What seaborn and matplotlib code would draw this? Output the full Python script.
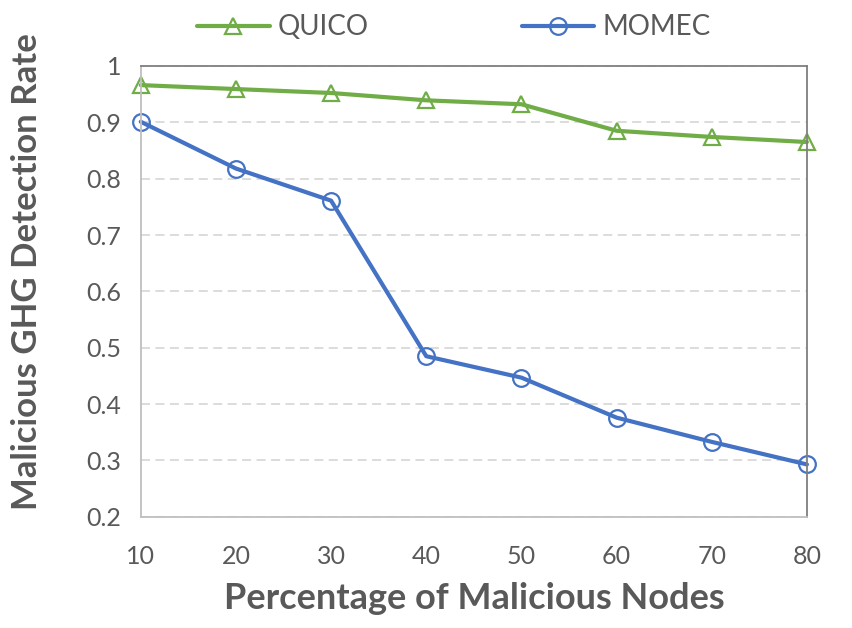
import pandas as pd
import matplotlib
matplotlib.use("Agg")
import matplotlib.pyplot as plt
import seaborn as sns
from matplotlib.ticker import FuncFormatter

# =========================
# DATA
# =========================

nodes = [10, 20, 30, 40, 50, 60, 70, 80]
quico = [0.966, 0.959, 0.952, 0.939, 0.932, 0.885, 0.874, 0.865]
momec = [0.901, 0.818, 0.761, 0.485, 0.447, 0.376, 0.333, 0.293]

df = pd.DataFrame({
    "nodes": nodes * 2,
    "rate": quico + momec,
    "method": ["QUICO"] * len(nodes) + ["MOMEC"] * len(nodes),
})

# =========================
# STYLE
# =========================

sns.set_style("white")
plt.rcParams['font.family'] = ['Lato', 'DejaVu Sans']

text_col = "#595959"
palette = {"QUICO": "#70AD47", "MOMEC": "#4472C4"}
markers = {"QUICO": "^", "MOMEC": "o"}

fig = plt.figure(figsize=(8.53, 6.28), dpi=100)
ax = fig.add_axes([0.165, 0.177, 0.781, 0.718])

sns.lineplot(
    data=df,
    x="nodes",
    y="rate",
    hue="method",
    style="method",
    markers=markers,
    dashes=False,
    palette=palette,
    linewidth=3,
    markersize=12,
    markerfacecolor="none",
    markeredgewidth=1.6,
    ax=ax,
)

# hollow markers with coloured edges, not clipped at the frame
for line in ax.get_lines():
    line.set_markeredgecolor(line.get_color())
    line.set_clip_on(False)

ax.set_xlim(10, 80)
ax.set_ylim(0.2, 1.0)
ax.set_xticks(nodes)
ax.set_yticks([0.2, 0.3, 0.4, 0.5, 0.6, 0.7, 0.8, 0.9, 1.0])
ax.yaxis.set_major_formatter(FuncFormatter(lambda v, p: "1" if abs(v - 1) < 1e-9 else f"{v:.1f}"))

ax.grid(axis="y", color="#D9D9D9", linestyle=(0, (5, 3)), linewidth=1.3)
ax.set_axisbelow(True)

for side in ["left", "bottom"]:
    ax.spines[side].set_color("#BFBFBF")
    ax.spines[side].set_linewidth(1.3)
for side in ["top", "right"]:
    ax.spines[side].set_color("#7F7F7F")
    ax.spines[side].set_linewidth(1.3)
    ax.spines[side].set_visible(True)

ax.tick_params(axis="x", direction="in", length=8, color="#BFBFBF", width=1.0,
               labelsize=18, labelcolor=text_col, pad=20)
ax.tick_params(axis="y", length=0, labelsize=18, labelcolor=text_col, pad=14)

ax.set_xlabel("Percentage of Malicious Nodes", fontsize=26, fontweight="bold",
              color=text_col, labelpad=10)
ax.set_ylabel("Malicious GHG Detection Rate", fontsize=25, fontweight="bold",
              color=text_col)
ax.yaxis.set_label_coords(-0.147, 0.543)

handles, labels = ax.get_legend_handles_labels()
ax.legend(handles, labels, loc="lower center", bbox_to_anchor=(0.47, 1.02),
          ncol=2, frameon=False, fontsize=20, labelcolor=text_col,
          columnspacing=5.5, handlelength=2.6, handletextpad=0.3,
          borderaxespad=0.2)

fig.savefig("out.png", dpi=100)
